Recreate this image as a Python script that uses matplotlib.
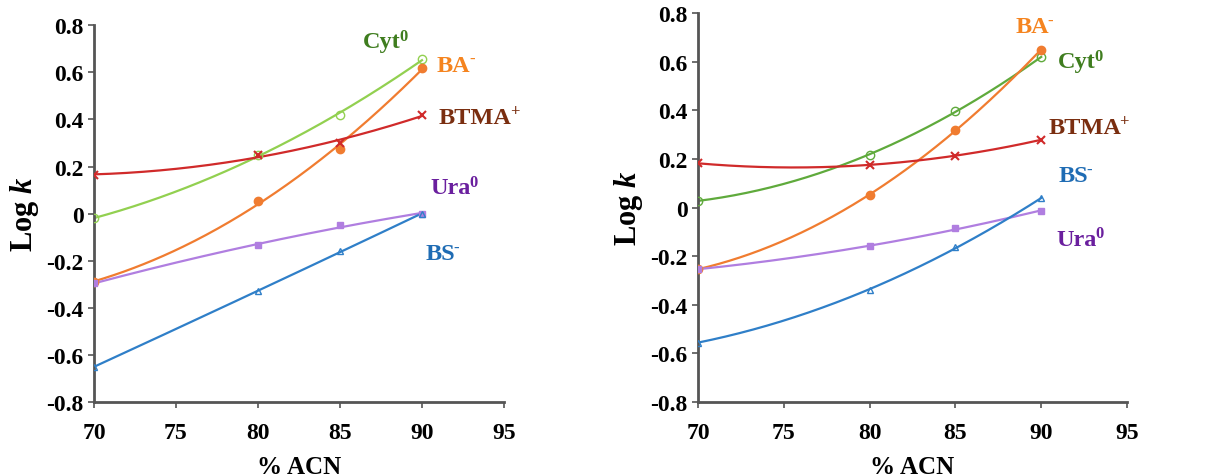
import numpy as np
import matplotlib
matplotlib.use('Agg')
import matplotlib.pyplot as plt
from matplotlib.ticker import FuncFormatter

plt.rcParams['font.family'] = ['Liberation Serif', 'DejaVu Serif']
plt.rcParams['font.weight'] = 'bold'
plt.rcParams['mathtext.fontset'] = 'custom'
plt.rcParams['mathtext.rm'] = 'Liberation Serif:bold'
plt.rcParams['mathtext.bf'] = 'Liberation Serif:bold'
plt.rcParams['mathtext.it'] = 'Liberation Serif:bold:italic'
plt.rcParams['axes.unicode_minus'] = False

acn = [70, 80, 85, 90]

# left panel
left_cyt = [-0.02, 0.25, 0.42, 0.655]
left_ba = [-0.29, 0.055, 0.275, 0.62]
left_btma = [0.165, 0.25, 0.3, 0.42]
left_ura = [-0.295, -0.135, -0.05, 0.0]
left_bs = [-0.65, -0.33, -0.16, 0.0]

# right panel
right_cyt = [0.028, 0.216, 0.398, 0.618]
right_ba = [-0.253, 0.051, 0.32, 0.649]
right_btma = [0.182, 0.176, 0.213, 0.279]
right_ura = [-0.253, -0.16, -0.086, -0.013]
right_bs = [-0.555, -0.338, -0.164, 0.038]

names = ['Cyt', 'BA', 'BTMA', 'Ura', 'BS']
charges = ['0', '-', '+', '0', '-']
label_colors = ['#3f7d1f', '#f5841f', '#7a2e10', '#6a1f9e', '#1f6cb4']

left_label_pos = [(86.4, 0.73), (90.9, 0.63), (91.0, 0.41), (90.5, 0.11), (90.2, -0.17)]
right_label_pos = [(91.0, 0.60), (88.5, 0.745), (90.4, 0.33), (90.9, -0.13), (91.0, 0.13)]

styles = [
    dict(marker='o', mfc='none', ms=6),
    dict(marker='o', ms=6),
    dict(marker='x', ms=6, mew=1.5),
    dict(marker='s', ms=5),
    dict(marker='^', mfc='none', ms=5),
]


def draw_panel(ax, series, line_colors, label_pos):
    xs = np.linspace(70, 90, 200)
    for vals, col, st in zip(series, line_colors, styles):
        coef = np.polyfit(acn, vals, 2)
        ax.plot(xs, np.polyval(coef, xs), color=col, lw=1.6, zorder=2)
        ax.plot(acn, vals, linestyle='none', color=col, mec=col, zorder=3, **st)
    for name, chg, col, (lx, ly) in zip(names, charges, label_colors, label_pos):
        t = ax.text(lx, ly, name, color=col, fontsize=17.5, fontweight='bold',
                    va='center', ha='left', clip_on=False)
        ax.annotate(chg, xy=(1, 1), xycoords=t, xytext=(-1, 2.5), textcoords='offset points',
                    color=col, fontsize=12, fontweight='bold', va='top', ha='left')
    ax.set_xlim(70, 95)
    ax.set_ylim(-0.8, 0.8)
    ax.set_xticks([70, 75, 80, 85, 90, 95])
    ax.set_yticks(np.arange(-0.8, 0.81, 0.2))
    ax.yaxis.set_major_formatter(FuncFormatter(lambda v, p: '0' if abs(v) < 1e-9 else '%.1f' % v))
    for s in ['top', 'right']:
        ax.spines[s].set_visible(False)
    for s in ['left', 'bottom']:
        ax.spines[s].set_color('#555555')
        ax.spines[s].set_linewidth(2)
    ax.tick_params(direction='out', length=4, width=1.2, color='#555555', labelsize=17)
    ax.tick_params(axis='x', pad=10)
    for lab in ax.get_xticklabels() + ax.get_yticklabels():
        lab.set_fontweight('bold')
    ax.set_xlabel('% ACN', fontsize=18, fontweight='bold', labelpad=9)
    ax.set_ylabel('Log $k$', fontsize=22, fontweight='bold', labelpad=4)


fig = plt.figure(figsize=(12.25, 4.77), dpi=100)
ax1 = fig.add_axes([0.0767, 0.155, 0.3347, 0.790])
ax2 = fig.add_axes([0.5698, 0.155, 0.3502, 0.8155])

draw_panel(ax1, [left_cyt, left_ba, left_btma, left_ura, left_bs],
           ['#92d050', '#f07c30', '#d02a2a', '#b07ee0', '#2f7fc8'], left_label_pos)
draw_panel(ax2, [right_cyt, right_ba, right_btma, right_ura, right_bs],
           ['#5faa3c', '#f07c30', '#d02a2a', '#b07ee0', '#2f7fc8'], right_label_pos)

fig.savefig('out.png', dpi=100)
